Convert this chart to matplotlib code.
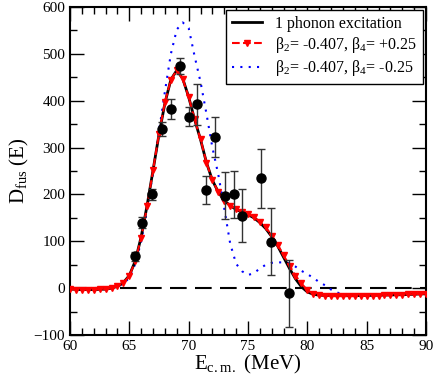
import matplotlib.pyplot as plt
from matplotlib.ticker import MultipleLocator

plt.rcParams['font.family'] = ['Liberation Serif', 'DejaVu Serif']
plt.rcParams['mathtext.fontset'] = 'custom'
plt.rcParams['mathtext.rm'] = 'Liberation Serif'

# experimental barrier distribution
exp_e = [65.5, 66.1, 66.9, 67.75, 68.5, 69.27, 70.05, 70.7, 71.5, 72.25,
         73.1, 73.8, 74.5, 76.1, 76.9, 78.45]
exp_d = [68, 140, 200, 340, 383, 475, 366, 392, 210, 323,
         197, 200, 155, 234, 99, -11]
exp_err = [10, 12, 12, 15, 21, 17, 20, 43, 30, 43,
           50, 50, 56, 62, 71, 71]

# 1 phonon excitation
ph_e = [60, 61, 62, 63, 63.5, 64, 64.5, 65, 65.5, 66, 66.5, 67, 67.5, 68,
        68.5, 69, 69.5, 70, 70.5, 71, 71.5, 72, 72.5, 73, 73.5, 74, 74.5,
        75, 75.5, 76, 76.5, 77, 77.5, 78, 78.5, 79, 79.5, 80, 80.5, 81,
        82, 84, 86, 88, 90]
ph_d = [-2, -3, -3, -2, 0, 4, 12, 27, 58, 110, 177, 252, 328, 395,
        445, 465, 447, 408, 360, 317, 268, 230, 205, 187, 176, 168, 162,
        157, 150, 140, 127, 110, 90, 66, 42, 20, 3, -8, -13, -15,
        -16, -16, -15, -14, -12]

# beta2 = -0.407, beta4 = +0.25
b4p_e = [60 + 0.5 * i for i in range(61)]
b4p_d = [-2, -3, -3, -3, -3, -2, -2, 0, 4, 12,
         26, 58, 108, 175, 252, 330, 397, 445, 465, 446,
         408, 360, 318, 268, 230, 205, 187, 176, 168, 163,
         158, 152, 142, 130, 112, 93, 70, 48, 27, 10,
         -4, -12, -15, -16, -17, -17, -17, -17, -17, -17,
         -16, -16, -16, -15, -15, -14, -14, -13, -13, -12, -12]

# beta2 = -0.407, beta4 = -0.25
b4m_e = [60, 61, 62, 63, 63.5, 64, 64.5, 65, 65.5, 66, 66.5, 67, 67.5, 68,
         68.5, 69, 69.5, 70, 70.5, 71, 71.5, 72, 72.5, 73, 73.5, 74, 74.5,
         75, 75.5, 76, 76.5, 77, 77.5, 78, 78.5, 79, 79.5, 80, 80.5, 81,
         81.5, 82, 82.5, 83, 84, 86, 88, 90]
b4m_d = [-3, -3, -3, -2, 0, 3, 10, 22, 52, 100, 168, 248, 335, 420,
         500, 552, 567, 555, 495, 440, 372, 300, 242, 170, 95, 52, 36,
         28, 32, 42, 50, 54, 55, 55, 53, 46, 37, 30, 22, 13,
         6, -3, -9, -14, -16, -15, -14, -12]

fig = plt.figure(figsize=(4.36, 3.82), dpi=100)
ax = fig.add_axes([0.1606, 0.123, 0.8164, 0.8587])

ax.axhline(0, color='black', lw=1.5, dashes=(8, 4), zorder=1)
ax.plot(ph_e, ph_d, color='black', lw=2, label='1 phonon excitation', zorder=3)
ax.plot(b4p_e, b4p_d, color='red', lw=1.5, ls='--', marker='v', ms=5,
        label=r'$\mathregular{\beta_2}$= -0.407, $\mathregular{\beta_4}$= +0.25', zorder=4)
ax.plot(b4m_e, b4m_d, color='blue', lw=1.5, ls=(0, (1, 3)),
        label=r'$\mathregular{\beta_2}$= -0.407, $\mathregular{\beta_4}$= -0.25', zorder=2)
ax.errorbar(exp_e, exp_d, yerr=exp_err, fmt='o', color='black', ms=6.5,
            ecolor='#333333', elinewidth=1, capsize=3, zorder=5)

ax.set_xlim(60, 90)
ax.set_ylim(-100, 600)
ax.xaxis.set_major_locator(MultipleLocator(5))
ax.xaxis.set_minor_locator(MultipleLocator(1))
ax.yaxis.set_major_locator(MultipleLocator(100))
ax.yaxis.set_minor_locator(MultipleLocator(50))
ax.tick_params(which='both', direction='in', top=True, right=True, labelsize=11, width=1)
ax.tick_params(which='major', length=10)
ax.tick_params(which='minor', length=5)
for s in ax.spines.values():
    s.set_linewidth(1.5)

ax.set_xlabel(r'E$\mathregular{_{c.m.}}$ (MeV)', fontsize=15, labelpad=0)
ax.set_ylabel(r'D$\mathregular{_{fus}}$ (E)', fontsize=15, labelpad=2)

leg = ax.legend(loc='upper right', fontsize=11.5, handlelength=1.9, fancybox=False,
                framealpha=1, edgecolor='black', borderpad=0.35, labelspacing=0.2,
                handletextpad=0.8, borderaxespad=0.2)
leg.get_frame().set_linewidth(1)

fig.savefig('out.png', dpi=100)
